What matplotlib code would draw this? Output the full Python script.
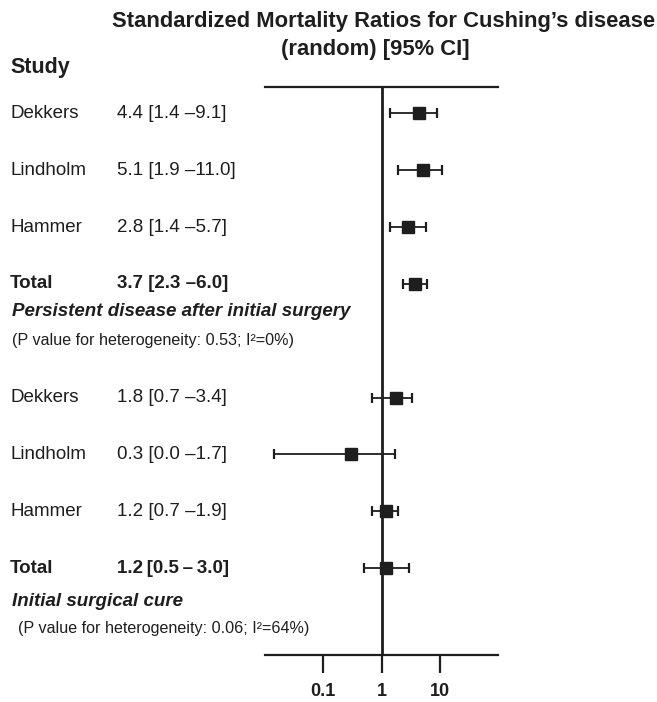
import matplotlib
matplotlib.use('Agg')
import matplotlib.pyplot as plt
from matplotlib.transforms import blended_transform_factory

plt.rcParams['font.family'] = ['Liberation Sans', 'DejaVu Sans']

# data
studies = ['Dekkers', 'Lindholm', 'Hammer', 'Total',
           'Dekkers', 'Lindholm', 'Hammer', 'Total']
rows = [0, 1, 2, 3, 5, 6, 7, 8]
smr = [4.4, 5.1, 2.8, 3.7, 1.8, 0.3, 1.2, 1.2]
ci_low = [1.4, 1.9, 1.4, 2.3, 0.7, 0.014, 0.7, 0.5]   # 0.0 drawn at axis floor
ci_high = [9.1, 11.0, 5.7, 6.0, 3.4, 1.7, 1.9, 3.0]
ci_text = ['4.4 [1.4 \u20139.1]', '5.1 [1.9 \u201311.0]', '2.8 [1.4 \u20135.7]',
           '3.7 [2.3 \u20136.0]', '1.8 [0.7 \u20133.4]', '0.3 [0.0 \u20131.7]',
           '1.2 [0.7 \u20131.9]', '1.2\u2009[0.5\u2009\u2013\u20093.0]']
is_total = [False, False, False, True, False, False, False, True]
group_names = ['Persistent disease after initial surgery', 'Initial surgical cure']
group_notes = ['(P value for heterogeneity: 0.53; I\u00b2=0%)',
               '(P value for heterogeneity: 0.06; I\u00b2=64%)']
xticks = [0.1, 1, 10]
xticklabels = ['0.1', '1', '10']

W, H = 657, 702
ink = '#1e1e1e'

fig = plt.figure(figsize=(W / 100, H / 100), dpi=100)
fig.patch.set_facecolor('white')


def fx(px):
    return px / W


def fy(py):
    return 1 - py / H


ax = fig.add_axes([fx(265), fy(655), fx(498) - fx(265), fy(86.5) - fy(655)])
ax.set_xscale('log')
ax.set_xlim(0.01, 100)
ax.set_ylim(9.53, -0.475)

for s in ['left', 'right']:
    ax.spines[s].set_visible(False)
for s in ['top', 'bottom']:
    ax.spines[s].set_linewidth(1.6)
    ax.spines[s].set_color(ink)

ax.axvline(1, color=ink, lw=2.0, zorder=1)

ax.errorbar(smr, rows, xerr=[[m - l for m, l in zip(smr, ci_low)],
                              [h - m for m, h in zip(smr, ci_high)]],
            fmt='s', color=ink, ms=8, elinewidth=1.3, capsize=3.5,
            capthick=1.6, zorder=3)

ax.set_yticks([])
ax.set_xticks(xticks)
ax.set_xticklabels(xticklabels, fontsize=13, fontweight='bold')
ax.minorticks_off()
ax.tick_params(axis='x', direction='out', length=13, width=1.6, color=ink,
               pad=7, labelcolor=ink)

# left-hand text columns
tr = blended_transform_factory(fig.transFigure, ax.transData)
for name, r, txt, tot in zip(studies, rows, ci_text, is_total):
    w = 'bold' if tot else 'normal'
    ax.text(fx(10), r, name, transform=tr, fontsize=13.5, fontweight=w,
            va='center', ha='left', color=ink, clip_on=False)
    ax.text(fx(117), r, txt, transform=tr, fontsize=13.5, fontweight=w,
            va='center', ha='left', color=ink, clip_on=False)

fig.text(fx(10), fy(68), 'Study', fontsize=15.5, fontweight='bold',
         va='center', ha='left', color=ink)

fig.text(fx(384), fy(22), 'Standardized Mortality Ratios for Cushing\u2019s disease',
         fontsize=15.8, fontweight='bold', ha='center', va='center', color=ink)
fig.text(fx(375), fy(50), '(random) [95% CI]', fontsize=15.8,
         fontweight='bold', ha='center', va='center', color=ink)

fig.text(fx(12), fy(312), group_names[0], fontsize=13.5, fontweight='bold',
         style='italic', va='center', ha='left', color=ink)
fig.text(fx(12), fy(340), group_notes[0], fontsize=11.6, va='center',
         ha='left', color=ink)
fig.text(fx(12), fy(601), group_names[1], fontsize=13.5, fontweight='bold',
         style='italic', va='center', ha='left', color=ink)
fig.text(fx(18), fy(628), group_notes[1], fontsize=11.6, va='center',
         ha='left', color=ink)

fig.savefig('out.png', dpi=100)
